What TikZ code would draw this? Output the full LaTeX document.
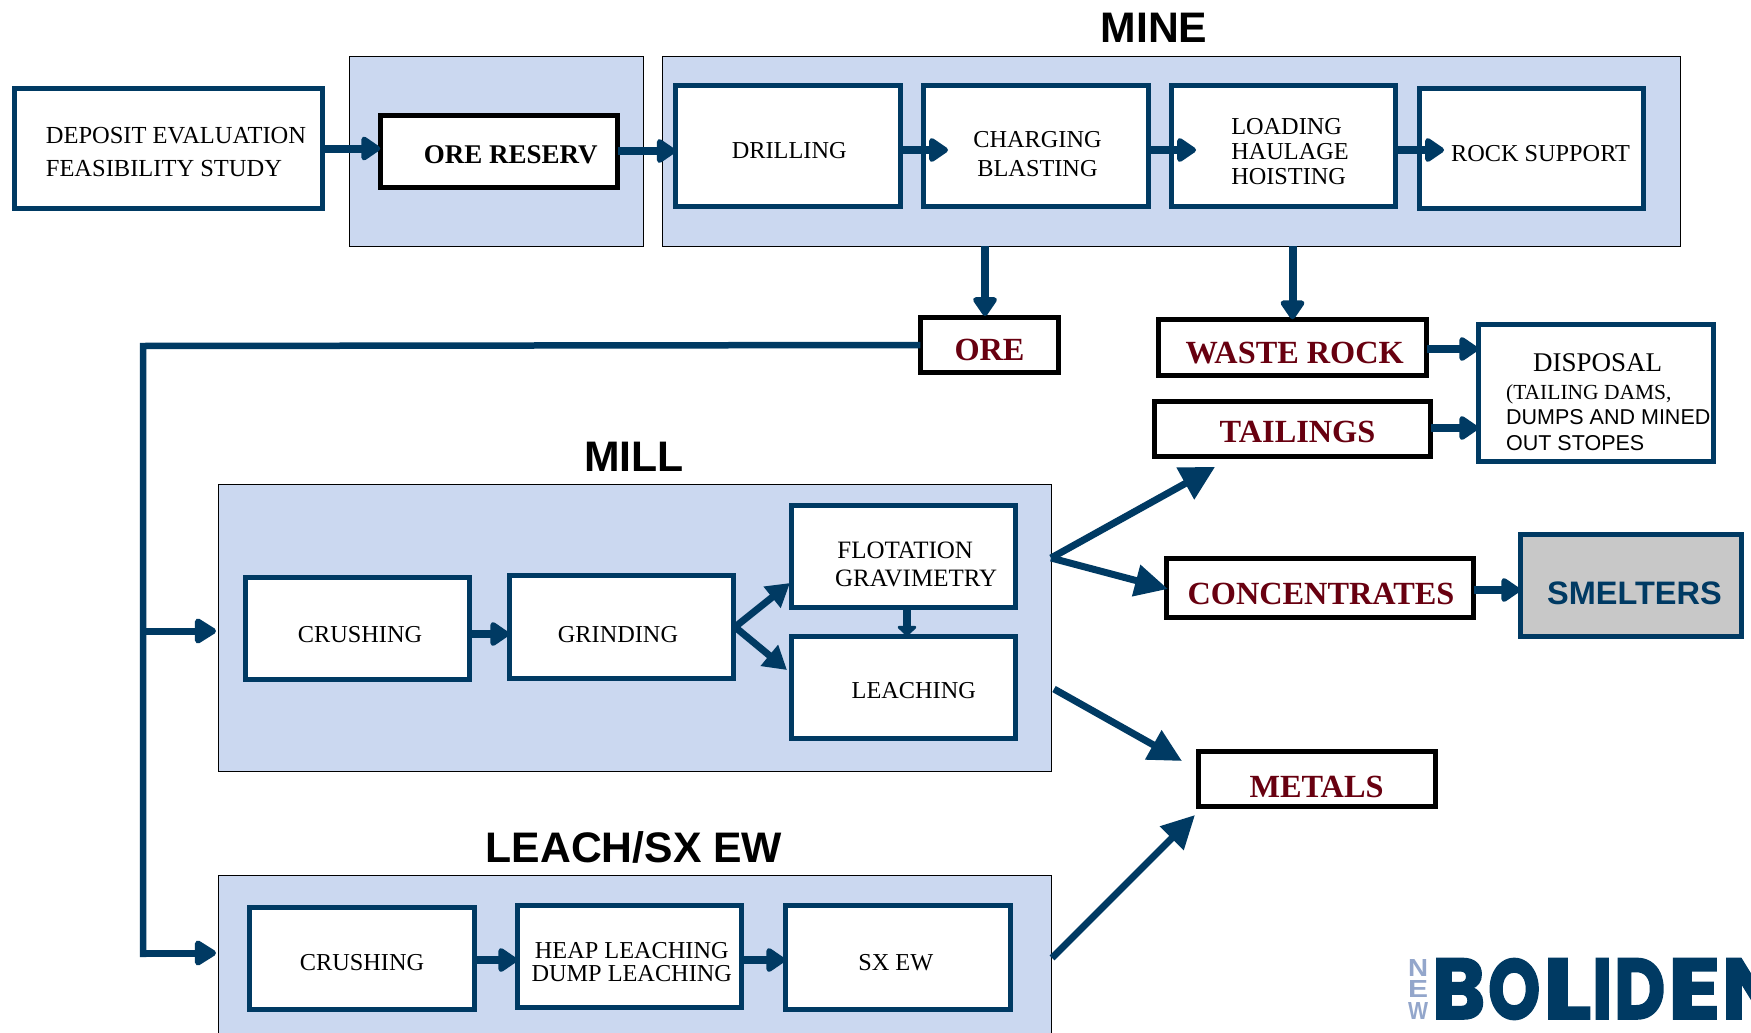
\documentclass[tikz,border=0pt]{standalone}
\usepackage{fontspec}
\setmainfont{Liberation Serif}
\newfontfamily\sansf{Liberation Sans}
\newfontfamily\logof[BoldFeatures={FakeBold=2.5}]{Poppins}
\usetikzlibrary{arrows.meta,calc}
\definecolor{navy}{HTML}{003A63}
\definecolor{panelblue}{HTML}{CBD8F0}
\definecolor{darkred}{HTML}{680010}
\definecolor{smeltgray}{HTML}{C8C8C8}
\definecolor{logolight}{HTML}{93A6CB}
\newcommand\fs[1]{\fontsize{#1}{#1}\selectfont}
\newcommand\dn[1]{\rule{0pt}{#1pt}}
\newcommand\hs[1]{\hspace*{#1pt}}
\newcommand\lgl[2]{\resizebox{#1pt}{60pt}{\logof\bfseries #2}}
\newcommand\nwl[1]{\resizebox{20pt}{17pt}{\sansf\bfseries #1}}
\tikzset{
  ppos/.style n args={4}{minimum width={(#3-#1)*1pt},minimum height={(#4-#2)*1pt},at={({(#1+#3)/2},{(#2+#4)/2})}},
  pos/.style n args={4}{minimum width={(#3-#1-2.5)*1pt},minimum height={(#4-#2-2.5)*1pt},at={({(#1+#3)/2},{(#2+#4)/2})}},
  panel/.style={draw=black,line width=0.8pt,fill=panelblue,inner sep=0pt,outer sep=0pt},
  bluebox/.style={draw=navy,line width=5pt,fill=white,inner sep=0pt,outer sep=0pt,align=center,font=\fs{24.3},text=black},
  blackbox/.style={draw=black,line width=5pt,fill=white,inner sep=0pt,outer sep=0pt,align=center,font=\fs{32.3}\bfseries,text=darkred},
  titletext/.style={font=\sansf\fs{42.7}\bfseries,text=black,inner sep=0pt},
  arr/.style={draw=navy,line width=8pt,-{Triangle[width=27pt,length=21pt,round]}},
  trunkarr/.style={draw=navy,line width=7pt,-{Triangle[width=28pt,length=24pt,round]}},
  midarr/.style={draw=navy,line width=7pt,-{Triangle[width=26pt,length=23pt]}},
  bigarr/.style={draw=navy,line width=7pt,-{Triangle[width=35pt,length=34pt]}},
  plain/.style={draw=navy,line width=6.5pt},
}
\begin{document}
\begin{tikzpicture}[x=1pt,y=-1pt]
\clip (0,0) rectangle (1751,1033);
% panels
\node[panel,ppos={349.5}{56}{643}{246}] (orepanel) {};
\node[panel,ppos={662}{56}{1680}{246}] (minepanel) {};
\node[panel,ppos={218}{484}{1051}{771}] (millpanel) {};
\node[panel,ppos={218}{875}{1051}{1060}] (leachpanel) {};
% titles
\node[titletext] (minetitle) at (1154,28) {MINE};
\node[titletext] (milltitle) at (634,457) {MILL};
\node[titletext] (leachtitle) at (634,847) {LEACH/SX EW};
% top row
\node[bluebox,pos={13}{87}{324}{210},align=left,font=\fs{24.5}] (deposit) {\dn{23}\hs{15}DEPOSIT EVALUATION\\[9pt]\hs{15}FEASIBILITY STUDY};
\node[blackbox,pos={379}{114}{619}{189},font=\fs{27}\bfseries,text=black] (reserv) {\dn{25}\hs{23.5}ORE RESERV};
\node[bluebox,pos={674.5}{84}{902}{208}] (drilling) {\dn{25}\hs{2}DRILLING};
\node[bluebox,pos={922}{84}{1150}{208}] (charging) {\dn{32}\hs{3}CHARGING\\[4pt]\hs{3}BLASTING};
\node[bluebox,pos={1170}{84}{1397}{208},align=left] (loading) {\dn{27}\hs{13}LOADING\\[1pt]\hs{13}HAULAGE\\[1pt]\hs{13}HOISTING};
\node[bluebox,pos={1418}{87}{1645}{210}] (rock) {\dn{26}\hs{18}ROCK SUPPORT};
% outputs
\node[blackbox,pos={919}{316}{1060}{374}] (ore) {\dn{30.4}ORE};
\node[blackbox,pos={1157}{318}{1428}{377}] (waste) {\dn{32.6}\hs{4.5}WASTE ROCK};
\node[blackbox,pos={1153}{400}{1432}{458}] (tailings) {\dn{28}\hs{10}TAILINGS};
\node[bluebox,pos={1477}{323}{1715}{463},align=left,font=\fs{21.5}] (disposal) {\dn{36}\hs{51.5}{\fs{27}DISPOSAL}\\[6pt]\hs{24.5}(TAILING DAMS,\\[4pt]\hs{24.5}{\sansf DUMPS AND MINED}\\[4pt]\hs{24.5}{\sansf OUT STOPES}};
\node[blackbox,pos={1165}{557}{1475}{619}] (conc) {\dn{32.6}\hs{2}CONCENTRATES};
\node[bluebox,pos={1519}{533}{1743}{638},fill=smeltgray,font=\sansf\fs{32.5}\bfseries,text=navy] (smelters) {\dn{39}\hs{7}SMELTERS};
\node[blackbox,pos={1197}{750}{1437}{808}] (metals) {\dn{37}\hs{-1}METALS};
% mill
\node[bluebox,pos={244.5}{576}{471}{681}] (crush) {\dn{29}\hs{4.5}CRUSHING};
\node[bluebox,pos={508}{574}{735}{680}] (grind) {\dn{31.6}GRINDING\hs{7}};
\node[bluebox,pos={790.6}{504}{1017}{609},align=left,font=\fs{25}] (flot) {\dn{32}\hs{27}FLOTATION\\[3pt]\hs{24.6}GRAVIMETRY};
\node[bluebox,pos={790.6}{635}{1017}{740}] (leaching) {\dn{23}\hs{20}LEACHING};
% leach
\node[bluebox,pos={248}{906}{476}{1011}] (crushb) {\dn{25}CRUSHING};
\node[bluebox,pos={516}{904}{743}{1009}] (heap) {\dn{27}\hs{4.5}HEAP LEACHING\\[-2pt]\hs{4.5}DUMP LEACHING};
\node[bluebox,pos={784}{904}{1012}{1011}] (sxew) {\dn{26}SX EW\hs{4.5}};
% free ends
\coordinate (corner) at (143,346);
\coordinate (trunkend) at (143,957);
\coordinate (trunkmill) at (143,631);
\coordinate (trunkleach) at (143,953);
\coordinate (minetoore) at (985,316);
\coordinate (tipchg) at (948,150);
\coordinate (tiplod) at (1196,150);
\coordinate (tiprock) at (1444,150);
\coordinate (fan) at (1051,558);
\coordinate (tiptail) at (1215,467);
\coordinate (tipconc) at (1168,589);
\coordinate (millb) at (1054,689);
\coordinate (tipmet) at (1182,761);
\coordinate (leachb) at (1052,958);
\coordinate (tipmetb) at (1195,815);
\coordinate (gout) at (735,627);
\coordinate (tipflot) at (790,583);
\coordinate (tipleach) at (787,670);
% connectors
\draw[arr] (deposit.east) -- (reserv.west |- deposit.east);
\draw[arr] (reserv.east |- 0,151) -- (drilling.west |- 0,151);
\draw[arr] (drilling.east |- 0,150) -- (tipchg);
\draw[arr] (charging.east |- 0,150) -- (tiplod);
\draw[arr] (loading.east |- 0,150) -- (tiprock);
\draw[arr] (minepanel.south -| minetoore) -- (minetoore);
\draw[arr] (minepanel.south -| waste.north) -- (waste.north);
\draw[plain,line join=miter] (ore.west) -- (corner) -- (trunkend);
\draw[trunkarr] (trunkmill) -- ([xshift=-2pt]millpanel.west |- trunkmill);
\draw[trunkarr] (trunkleach) -- ([xshift=-2pt]leachpanel.west |- trunkleach);
\draw[arr] (waste.east |- 0,349) -- (disposal.west |- 0,349);
\draw[arr] (tailings.east |- 0,428) -- (disposal.west |- 0,428);
\draw[arr] (conc.east |- 0,590) -- (smelters.west |- 0,590);
\draw[arr] (crush.east |- 0,634) -- (grind.west |- 0,634);
\draw[midarr] (gout) -- (tipflot);
\draw[midarr] (gout) -- (tipleach);
\draw[arr,-{Triangle[width=22pt,length=11pt,round]}] (907,0 |- flot.south) -- (907,0 |- leaching.north);
\draw[bigarr] (fan) -- (tiptail);
\draw[bigarr,-{Triangle[width=31pt,length=33pt]}] (fan) -- (tipconc);
\draw[bigarr,-{Triangle[width=32pt,length=33pt]}] (millb) -- (tipmet);
\draw[bigarr,-{Triangle[width=32pt,length=33pt]}] (leachb) -- (tipmetb);
\draw[arr] (crushb.east |- 0,960) -- (heap.west |- 0,960);
\draw[arr] (heap.east |- 0,960) -- (sxew.west |- 0,960);
% logo
\node[anchor=west,inner sep=0pt,text=navy] (logo) at (1432,989) {\lgl{53}{B}\hs{3}\lgl{52}{O}\hs{3}\lgl{48}{L}\hs{1}\lgl{20}{I}\hs{2}\lgl{51}{D}\hs{3}\lgl{52}{E}\hs{2}\lgl{60}{N}};
\node[anchor=north,inner sep=0pt,text=logolight,align=center,font=\fs{21.5}] (lognew) at (1418,959) {\nwl{N}\\\nwl{E}\\\nwl{W}};
\end{tikzpicture}
\end{document}
